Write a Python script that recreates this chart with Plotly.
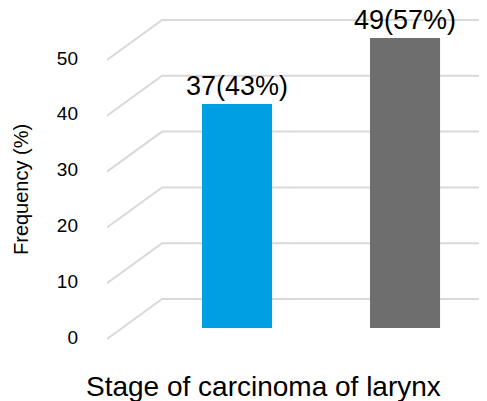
import plotly.graph_objects as go

# ---- data ----
bar_index = [0, 1]
counts = [37, 49]
percents = [43, 57]
tick_values = [0, 10, 20, 30, 40, 50]
tick_labels = ["0", "10", "20", "30", "40", "50"]
bar_colors = ["#009fe3", "#6e6e6e"]
x_title = "Stage of carcinoma of larynx"
y_title = "Frequency (%)"

# ---- 3-D look geometry (axis units) ----
DEPTH = 7.17          # front-to-back drop of the floor, in value units
X_FRONT, X_BACK, X_RIGHT = -0.774, -0.446, 1.488

fig = go.Figure()

# perspective gridlines: slanted side wall + horizontal back wall
gx, gy = [], []
for v in tick_values:
    gx += [X_FRONT, X_BACK, X_RIGHT, None]
    gy += [v - DEPTH, v, v, None]
fig.add_trace(go.Scatter(x=gx, y=gy, mode="lines",
                         line=dict(color="#d9d9d9", width=2),
                         hoverinfo="skip", showlegend=False, cliponaxis=False))

bar_text = [f"{c}({p}%)" for c, p in zip(counts, percents)]
fig.add_trace(go.Bar(x=bar_index, y=[c + 3.73 for c in counts], base=-3.73,
                     marker=dict(color=bar_colors, line=dict(width=0)),
                     width=0.417, text=bar_text, textposition="outside",
                     constraintext="none",
                     textfont=dict(size=27, color="#000000",
                                   family="Liberation Sans, Arial"),
                     cliponaxis=False, yaxis="y2", showlegend=False))

# the page body adds an 8px offset; the figure is sized to compensate
fig.update_layout(
    template="none",
    width=479, height=393,
    margin=dict(l=99, r=0, t=2, b=56, autoexpand=False),
    paper_bgcolor="white", plot_bgcolor="white",
    font=dict(family="Liberation Sans, Arial", color="#000000"),
    xaxis=dict(range=[X_FRONT, X_RIGHT], showticklabels=False, showgrid=False,
               zeroline=False, showline=False, ticks="", automargin=False),
    yaxis=dict(range=[-8.244, 51.792], tickvals=[v - DEPTH for v in tick_values],
               ticktext=tick_labels, showgrid=False, zeroline=False,
               showline=False, ticks="", ticklabelstandoff=28,
               ticklabelshift=-2, tickfont=dict(size=19, color="#000000"),
               automargin=False),
    yaxis2=dict(range=[-6.818, 54.09], overlaying="y", visible=False,
                showgrid=False, zeroline=False),
    annotations=[
        dict(text=x_title, xref="paper", yref="paper", x=0.413, y=-0.125,
             xanchor="center", yanchor="middle", showarrow=False,
             font=dict(size=28, color="#000000")),
        dict(text=y_title, xref="paper", yref="paper", x=-0.2263, y=0.4627,
             xanchor="center", yanchor="middle", showarrow=False, textangle=-90,
             font=dict(size=20, color="#000000")),
    ],
)

fig.write_html("out.html")
